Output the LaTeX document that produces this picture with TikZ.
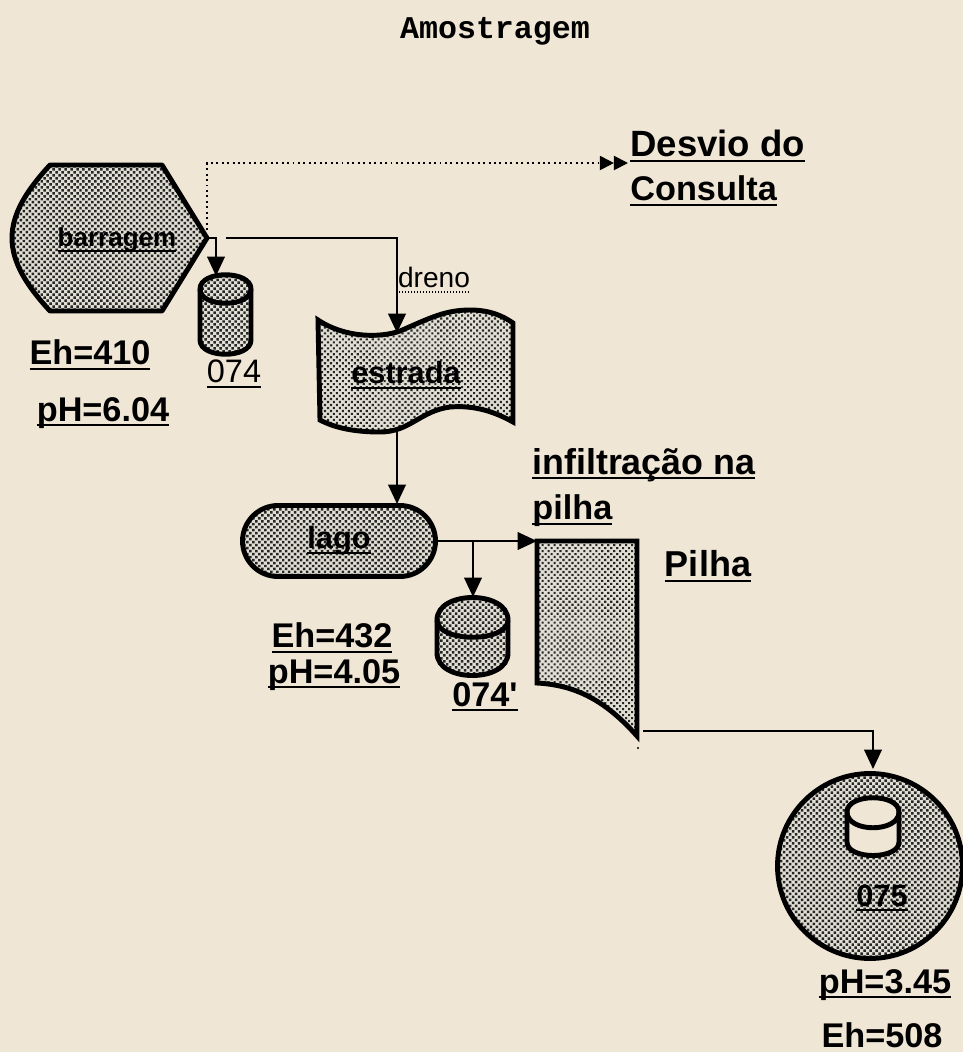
\documentclass[tikz,border=0pt]{standalone}
\usepackage{fontspec}
\setmainfont{Liberation Sans}
\newfontfamily\typefont{Liberation Mono}
\newfontfamily\primefont{Liberation Sans}
\usetikzlibrary{calc,positioning,arrows.meta,patterns.meta,shapes.misc}
\definecolor{PaperTone}{RGB}{239,230,214}
\definecolor{DotLight}{RGB}{225,222,212}
\newcommand{\ulab}[1]{\setbox0=\hbox{#1}\rlap{\copy0}\raisebox{-2.8pt}{\rule{\wd0}{1.1pt}}}
\newcommand{\dotlab}[1]{\setbox0=\hbox{#1}\rlap{\copy0}\raisebox{-3pt}{\hbox to \wd0{\xleaders\hbox to 1.7pt{\hss\rule{1pt}{1pt}\hss}\hfill}}}
\tikzset{
    halftone/.style={draw=black,line width=2.8pt,preaction={fill=DotLight},pattern={Dots[radius=0.85pt,distance=2.4pt,angle=45]},pattern color=black!85},
    darktone/.style={draw=black,line width=2.8pt,preaction={fill=DotLight},pattern={Dots[radius=1pt,distance=2.4pt,angle=45]},pattern color=black!85},
    flow/.style={line width=1.1pt,-{Triangle[length=11pt,width=10pt]}},
    checkflow/.style={line width=1.1pt,dotted,-{Triangle[length=8pt,width=8pt]Triangle[length=8pt,width=8pt]}},
    biglabel/.style={inner sep=0pt,font=\bfseries\fontsize{19.5}{22}\selectfont},
    boxlabel/.style={inner sep=0pt,font=\bfseries\fontsize{17.5}{20}\selectfont},
    thinlabel/.style={inner sep=0pt,font=\fontsize{#1}{#1}\selectfont}
}
\begin{document}
\begin{tikzpicture}[x=0.02cm,y=-0.02cm]
		\fill[PaperTone] (0,0) rectangle (963,1052);
		\useasboundingbox (0,0) rectangle (963,1052);
		\node[inner sep=0pt,font=\typefont\bfseries\fontsize{18}{20}\selectfont] (title) at (495,31) {Amostragem};
		% barragem
		\draw[darktone,line join=round] (50,165) -- (162,165) -- (207,238) -- (162,311) -- (50,311) .. controls (26,285) and (12,262) .. (12,238) .. controls (12,214) and (26,191) .. (50,165) -- cycle;
		\node[boxlabel,font=\bfseries\fontsize{14.8}{17}\selectfont] (barragem) at (117,240) {\ulab{barragem}};
		\coordinate (barragemtip) at (207,238);
		\coordinate (checkstart) at (207,230);
		\coordinate (checkturn) at (207,163);
		\coordinate (drainstart) at (226,238);
		\node[biglabel] (ehbarragem) at (90,355) {\ulab{Eh=410}};
		\node[biglabel] (phbarragem) at (103,413) {\ulab{pH=6.04}};
		% amostra 074
		\draw[darktone] (200,289) .. controls (200,270) and (251,270) .. (251,289) -- (251,340) .. controls (251,359) and (200,359) .. (200,340) -- cycle;
		\draw[line width=2.8pt] (200,289) .. controls (200,308) and (251,308) .. (251,289);
		\coordinate (drumtop) at (216,276);
		\node[thinlabel=18.5] (drumlabel) at (234,374) {\ulab{074}};
		% estrada
		\draw[halftone] (318,320) .. controls (345,338) and (380,338) .. (400,331) .. controls (430,318) and (445,310) .. (470,310) .. controls (490,310) and (503,316) .. (513,323) -- (513,422) .. controls (495,412) and (475,405) .. (450,407) .. controls (420,411) and (410,432) .. (380,432) .. controls (355,432) and (335,428) .. (320,420) -- cycle;
		\node[boxlabel] (estrada) at (406,375) {\ulab{estrada}};
		\coordinate (estradatop) at (397,333);
		\coordinate (estradabase) at (397,431);
		\node[thinlabel=16] (dreno) at (434,280) {\dotlab{dreno}};
		% lago
		\node[rounded rectangle,darktone,minimum width=3.86cm,minimum height=1.42cm,boxlabel] (lago) at (339,541) {\ulab{lago}};
		\coordinate (lagotop) at (397,504);
		\node[biglabel] (ehlago) at (332,638) {\ulab{Eh=432}};
		\node[biglabel] (phlago) at (334,675) {\ulab{pH=4.05}};
		% amostra 074'
		\draw[darktone] (437,620) .. controls (437,590) and (508,590) .. (508,620) -- (508,653) .. controls (508,683) and (437,683) .. (437,653) -- cycle;
		\draw[line width=2.8pt] (437,620) .. controls (437,643) and (508,643) .. (508,620);
		\coordinate (branch) at (473,541);
		\coordinate (bigdrumtop) at (473,597);
		\node[biglabel,font=\primefont\bfseries\fontsize{19.5}{22}\selectfont] (bigdrumlabel) at (485,697) {\ulab{074'}};
		% pilha
		\draw[halftone,line join=miter] (537,541) -- (637,541) -- (637,736) .. controls (605,700) and (575,685) .. (537,683) -- cycle;
		\coordinate (pilhatop) at (537,541);
		\coordinate (pilhabase) at (643,731);
		\node[biglabel,anchor=west,font=\bfseries\fontsize{20.4}{24}\selectfont] (infiltracao) at (532,465) {\ulab{infiltração na}};
		\node[biglabel,anchor=west] (pilhanote) at (532,511) {\ulab{pilha}};
		\node[biglabel,font=\bfseries\fontsize{20.5}{24}\selectfont] (pilha) at (708,566) {\ulab{Pilha}};
		\fill (638,748) circle (1.2);
		% sitio 075
		\node[circle,darktone,minimum size=3.7cm] (sitio) at (870,866) {};
		\draw[line width=2.8pt,fill=PaperTone] (847,812) .. controls (847,793) and (899,793) .. (899,812) -- (899,842) .. controls (899,860) and (847,860) .. (847,842) -- cycle;
		\draw[line width=2.8pt] (847,812) .. controls (847,833) and (899,833) .. (899,812);
		\node[boxlabel] (sitiolabel) at (882,898) {\ulab{075}};
		\node[biglabel] (phsitio) at (885,985) {\ulab{pH=3.45}};
		\node[biglabel] (ehsitio) at (882,1035) {Eh=508};
		% desvio
		\node[biglabel,anchor=west,font=\bfseries\fontsize{20.8}{24}\selectfont] (desvio) at (630,146) {\ulab{Desvio do}};
		\node[biglabel,anchor=west] (consulta) at (630,191) {\ulab{Consulta}};
		\coordinate (desviotip) at (628,163);
		% connectors
		\draw[flow] (barragemtip) -- (216,238) -- (drumtop);
		\draw[flow] (drainstart) -- (397,238) -- (estradatop);
		\draw[flow] (estradabase) -- (lagotop);
		\draw[flow] (lago.east) -- (pilhatop);
		\draw[flow] (branch) -- (bigdrumtop);
		\draw[flow] (pilhabase) -- (873,731) -- (873,769);
		\draw[checkflow] (checkstart) -- (checkturn) -- (desviotip);
\end{tikzpicture}
\end{document}
